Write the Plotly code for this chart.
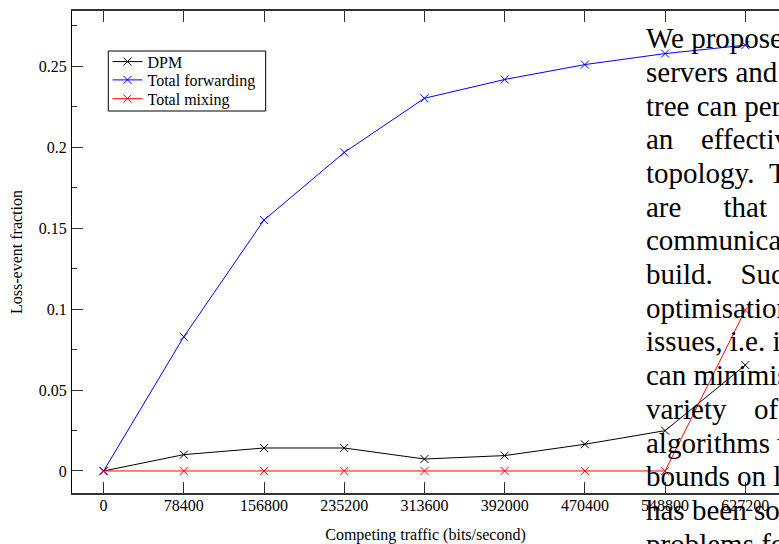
import plotly.graph_objects as go

# ---- data ----
traffic = [0, 78400, 156800, 235200, 313600, 392000, 470400, 548800, 627200]
tick_labels = ["0", "78400", "156800", "235200", "313600", "392000", "470400", "548800", "627200"]
dpm = [0.0, 0.0101, 0.0142, 0.0142, 0.0074, 0.0095, 0.0165, 0.0249, 0.0654]
total_forwarding = [0.0, 0.0829, 0.155, 0.1967, 0.2302, 0.2418, 0.251, 0.2578, 0.263]
total_mixing = [0.0, 0.0, 0.0, 0.0, 0.0, 0.0, 0.0, 0.0, 0.0994]
series_names = ["DPM", "Total forwarding", "Total mixing"]
series_colors = ["#000000", "#0000ff", "#ff0000"]
y_ticks = [0, 0.05, 0.1, 0.15, 0.2, 0.25]
y_tick_labels = ["0", "0.05", "0.1", "0.15", "0.2", "0.25"]

NB = "\u00a0"
TH = "\u2009"
overlay_lines = [
    "We propose",
    "servers and",
    "tree can per",
    "an" + NB * 3 + TH + "effective",
    "topology." + NB * 2 + "The",
    "are" + NB * 5 + TH + "that" + NB * 4 + "t",
    "communicat",
    "build." + NB * 3 + TH + "Such",
    "optimisation",
    "issues, i.e. it",
    "can minimise",
    "variety" + NB * 3 + TH + "of",
    "algorithms" + NB + "w",
    "bounds on la",
    "has been sol",
    "problems for",
]

FONT = "Liberation Serif, Times New Roman, serif"
W, H = 779, 544
L, R, T, B = 72, 0, 11, 51
pw, ph = W - L - R, H - T - B


def px_x(px):
    return (px - L) / pw


def px_y(py):
    return (H - B - py) / ph


fig = go.Figure()
legend_ids = ["legend", "legend2", "legend3"]
for name, vals, col, lg in zip(series_names, [dpm, total_forwarding, total_mixing],
                               series_colors, legend_ids):
    fig.add_trace(go.Scatter(
        x=traffic, y=vals, name=name, mode="lines+markers", legend=lg,
        line=dict(color=col, width=1),
        marker=dict(symbol="x-thin", size=8, color=col, line=dict(color=col, width=1)),
    ))

# legend frame
fig.add_shape(type="rect", xref="paper", yref="paper",
              x0=px_x(108.3), x1=px_x(265.7), y0=px_y(111), y1=px_y(51),
              line=dict(color="#000000", width=1), fillcolor="white", layer="above")

# overlay paragraph text
base0 = 48.0
spacing = 33.7
fs = 29
for i, line in enumerate(overlay_lines):
    baseline = base0 + i * spacing
    cy = baseline - 0.34 * fs
    fig.add_annotation(
        text=line, xref="paper", yref="paper",
        x=px_x(644), y=px_y(cy),
        xanchor="left", yanchor="middle", showarrow=False,
        font=dict(family=FONT, size=fs, color="#000000"),
    )

legend_common = dict(xanchor="left", yanchor="middle", bgcolor="rgba(0,0,0,0)",
                     borderwidth=0, font=dict(family=FONT, size=16, color="#000000"))
legend_centers = [61.7, 80.0, 98.8]
lx = px_x(107.5)

fig.update_layout(
    width=W, height=H,
    margin=dict(l=L, r=R, t=T, b=B, pad=0),
    paper_bgcolor="white", plot_bgcolor="white",
    font=dict(family=FONT, size=16, color="#000000"),
    showlegend=True,
    legend=dict(x=lx, y=px_y(legend_centers[0]), **legend_common),
    legend2=dict(x=lx, y=px_y(legend_centers[1]), **legend_common),
    legend3=dict(x=lx, y=px_y(legend_centers[2]), **legend_common),
    xaxis=dict(
        range=[-30871, 660124],
        tickmode="array", tickvals=traffic, ticktext=tick_labels,
        ticks="inside", ticklen=11, tickwidth=1, tickcolor="#333333",
        showline=True, linecolor="#333333", linewidth=1.5, mirror="ticks",
        showgrid=False, zeroline=False, ticklabelstandoff=-3,
        tickfont=dict(family=FONT, size=16, color="#000000"),
        title=dict(text="Competing traffic (bits/second)", standoff=17,
                   font=dict(family=FONT, size=16, color="#000000")),
    ),
    yaxis=dict(
        range=[-0.0136, 0.2841],
        tickmode="array", tickvals=y_ticks, ticktext=y_tick_labels,
        ticks="inside", ticklen=11, tickwidth=1, tickcolor="#333333",
        minor=dict(ticks="inside", ticklen=5, tickwidth=1, tickcolor="#333333",
                   tickmode="linear", tick0=0.025, dtick=0.05, showgrid=False),
        showline=True, linecolor="#000000", linewidth=1, mirror=False,
        showgrid=False, zeroline=False, ticklabelstandoff=1,
        tickfont=dict(family=FONT, size=16, color="#000000"),
        title=dict(text="Loss-event fraction", standoff=12,
                   font=dict(family=FONT, size=16, color="#000000")),
    ),
)

fig.write_html("out.html", config={"displayModeBar": False},
               post_script="document.body.style.margin='0px';")
